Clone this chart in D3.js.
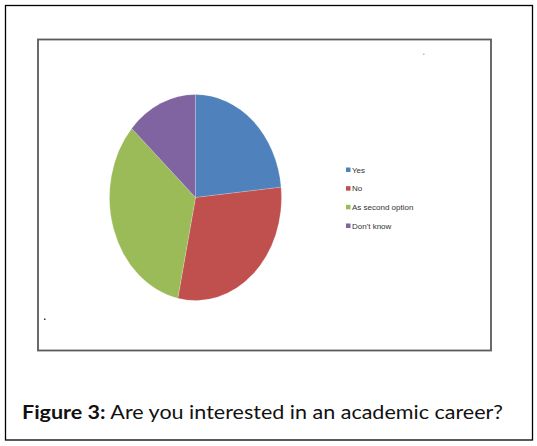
<!DOCTYPE html>
<html><head><meta charset="utf-8">
<script src="https://cdn.jsdelivr.net/npm/d3@7"></script>
<style>body{margin:0;background:#fff}svg{display:block}</style>
</head><body>
<script>
const categories = ["Yes", "No", "As second option", "Don't know"];
const values = [23.4, 29.9, 33.4, 13.3];
const colors = ["#4F81BD", "#C0504D", "#9BBB59", "#8064A2"];
const captionBold = "Figure 3:";
const captionText = " Are you interested in an academic career?";

const W = 537, H = 446;
const svg = d3.select("body").append("svg").attr("width", W).attr("height", H);

// outer frame
svg.append("rect").attr("x", 5.5).attr("y", 5.5).attr("width", 527).attr("height", 434.5)
  .attr("fill", "none").attr("stroke", "#000").attr("stroke-width", 1.3);
// inner chart frame
svg.append("rect").attr("x", 38).attr("y", 39.5).attr("width", 453).attr("height", 311)
  .attr("fill", "#fff").attr("stroke", "#5a5a5a").attr("stroke-width", 1.8);

// pie (slightly elliptical)
const ry = 103, rx = 86;
const pie = d3.pie().sort(null).value(d => d);
const arc = d3.arc().innerRadius(0).outerRadius(ry);
const g = svg.append("g").attr("transform", `translate(195.5,197.5) scale(${rx/ry},1)`);
g.selectAll("path").data(pie(values)).join("path")
  .attr("d", arc).attr("fill", (d, i) => colors[i])
  .attr("stroke", "rgba(255,255,255,0.35)").attr("stroke-width", 0.6);

// legend
const y = d3.scalePoint().domain(categories).range([170, 226]);
const lg = svg.append("g");
categories.forEach((c, i) => {
  lg.append("rect").attr("x", 346).attr("y", y(c) - 2.5).attr("width", 4.5).attr("height", 4.5)
    .attr("fill", colors[i]);
  lg.append("text").attr("x", 352).attr("y", y(c) + 2.7).text(c)
    .attr("font-family", "Liberation Sans Narrow, Liberation Sans, Arial, sans-serif")
    .attr("font-size", 8).attr("fill", "#333");
});

// stray marks
svg.append("rect").attr("x", 423).attr("y", 53.5).attr("width", 1.5).attr("height", 1.5).attr("fill", "#bbb");
svg.append("rect").attr("x", 44).attr("y", 318.5).attr("width", 1.5).attr("height", 1.5).attr("fill", "#333");

// caption
const cap = svg.append("text").attr("x", 22).attr("y", 419)
  .attr("font-family", "Lato, sans-serif").attr("font-size", 18.5).attr("fill", "#111")
  .attr("textLength", 481).attr("lengthAdjust", "spacingAndGlyphs");
cap.append("tspan").attr("font-weight", "bold").text(captionBold);
cap.append("tspan").text(captionText);
</script>
</body></html>
